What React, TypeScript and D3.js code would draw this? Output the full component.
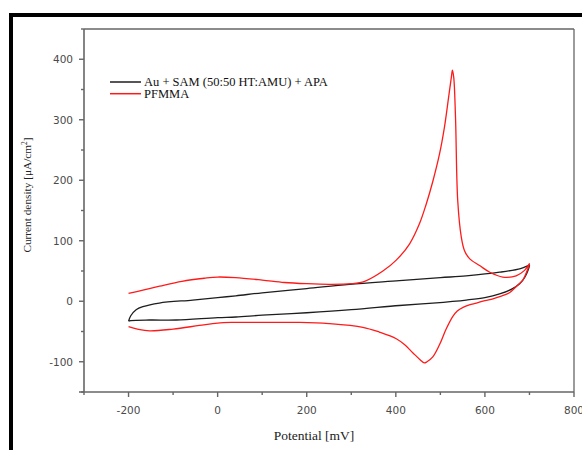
import React from "react";
import * as d3 from "d3";

// Black curve: Au + SAM (50:50 HT:AMU) + APA
const blackForwardE = [-200, -195, -183, -168, -131, -56, 0, 41, 100, 200, 296, 408, 500, 558, 633, 680, 697, 700];
const blackForwardI = [-33, -24, -14, -9, -3, 2, 6, 9, 14, 21, 28, 34, 39, 42, 48, 54, 59, 60];
const blackReverseE = [700, 690, 678, 660, 633, 600, 558, 483, 408, 300, 200, 100, 41, 0, -93, -153, -195, -200];
const blackReverseI = [60, 40, 29, 20, 12, 6, 2, -3, -7, -14, -19, -23, -26, -27, -31, -31, -32, -33];

// Red curve: PFMMA
const redForwardE = [-200, -170, -130, -80, -30, 0, 40, 100, 150, 200, 250, 300, 330, 371, 401, 431, 453, 468, 483, 498, 509, 519, 525, 527, 530, 534, 539, 547, 554, 566, 588, 611, 640, 670, 689, 700];
const redForwardI = [13, 18, 25, 33, 38, 40, 39, 35, 31, 29, 28, 29, 33, 50, 68, 95, 128, 160, 198, 243, 287, 340, 372, 382, 370, 304, 166, 106, 84, 70, 59, 48, 40, 42, 51, 62];
const redReverseE = [700, 697, 690, 685, 670, 655, 635, 618, 600, 581, 565, 551, 538, 528, 513, 498, 483, 470, 464, 455, 438, 420, 401, 363, 326, 250, 184, 100, 34, 0, -41, -100, -153, -180, -200];
const redReverseI = [62, 55, 42, 35, 24, 14, 8, 4, 1, -3, -6, -10, -16, -25, -46, -72, -92, -100, -102, -97, -85, -72, -62, -51, -43, -37, -35, -35, -35, -36, -40, -46, -49, -46, -42];

const xTicks = [-200, 0, 200, 400, 600, 800];
const xMinor = [-300, -100, 100, 300, 500, 700];
const yTicks = [-100, 0, 100, 200, 300, 400];
const yMinor = [-150, -50, 50, 150, 250, 350, 450];

const seriesNames = ["Au + SAM (50:50 HT:AMU) + APA", "PFMMA"];
const seriesColors = ["#1e1e1e", "#ff1a1a"];

const W = 582;
const H = 450;
const L = 84, R = 574, T = 29, B = 392;

export default function App() {
  const x = d3.scaleLinear().domain([-300, 800]).range([L, R]);
  const y = d3.scaleLinear().domain([-150, 450]).range([B, T]);

  const line = d3
    .line<[number, number]>()
    .x((d) => x(d[0]))
    .y((d) => y(d[1]))
    .curve(d3.curveCatmullRom.alpha(0.5));

  const zip = (a: number[], b: number[]) => a.map((v, i) => [v, b[i]] as [number, number]);
  const blackPts = zip(blackForwardE, blackForwardI).concat(zip(blackReverseE, blackReverseI).slice(1));
  const redPts = zip(redForwardE, redForwardI).concat(zip(redReverseE, redReverseI).slice(1));

  const axisColor = "#666";
  const labelColor = "#4a4a4a";
  const sans = "'DejaVu Sans', Verdana, sans-serif";
  const serif = "'Liberation Serif', 'Times New Roman', serif";

  return (
    <svg width={W} height={H} style={{ position: "absolute", left: 0, top: 0, background: "#fff" }}>
      <rect x={0} y={0} width={W} height={H} fill="#fff" />
      {/* outer frame */}
      <rect x={9} y={13} width={4} height={H - 13} fill="#000" />
      <rect x={9} y={13} width={W - 9} height={4} fill="#000" />

      {/* plot box */}
      <line x1={L} y1={T} x2={R} y2={T} stroke={axisColor} strokeWidth={1.3} />
      <line x1={R} y1={T} x2={R} y2={B} stroke={axisColor} strokeWidth={1.3} />
      <line x1={L} y1={T} x2={L} y2={B} stroke={axisColor} strokeWidth={1.6} />
      <line x1={L - 5} y1={B} x2={R} y2={B} stroke={axisColor} strokeWidth={1.6} />

      {/* x ticks */}
      {xTicks.map((t) => (
        <g key={"xt" + t}>
          <line x1={x(t)} x2={x(t)} y1={B} y2={B + 5} stroke={axisColor} strokeWidth={1.4} />
          <text x={x(t)} y={414} textAnchor="middle" fontFamily={sans} fontSize={10.5} fill={labelColor}>
            {t}
          </text>
        </g>
      ))}
      {xMinor.map((t) => (
        <line key={"xm" + t} x1={x(t)} x2={x(t)} y1={B} y2={B + 3} stroke={axisColor} strokeWidth={1.4} />
      ))}

      {/* y ticks */}
      {yTicks.map((t) => (
        <g key={"yt" + t}>
          <line x1={L - 5} x2={L} y1={y(t)} y2={y(t)} stroke={axisColor} strokeWidth={1.4} />
          <text x={73} y={y(t) + 3.8} textAnchor="end" fontFamily={sans} fontSize={10.5} fill={labelColor}>
            {t}
          </text>
        </g>
      ))}
      {yMinor.map((t) => (
        <line key={"ym" + t} x1={L - 3} x2={L} y1={y(t)} y2={y(t)} stroke={axisColor} strokeWidth={1.4} />
      ))}

      {/* axis titles */}
      <text x={314} y={440} textAnchor="middle" fontFamily={serif} fontSize={13.5} fill="#222">
        Potential [mV]
      </text>
      <text
        transform={`translate(31, ${195}) rotate(-90)`}
        textAnchor="middle"
        fontFamily={serif}
        fontSize={11.3}
        fill="#222"
      >
        Current density [μA/cm
        <tspan fontSize={7.5} dy={-4}>2</tspan>
        <tspan dy={4}>]</tspan>
      </text>

      {/* data */}
      <path d={line(blackPts) || ""} fill="none" stroke={seriesColors[0]} strokeWidth={1.3} />
      <path d={line(redPts) || ""} fill="none" stroke={seriesColors[1]} strokeWidth={1.3} />

      {/* legend */}
      {seriesNames.map((name, i) => (
        <g key={name}>
          <line x1={110} x2={141} y1={82 + i * 11.7} y2={82 + i * 11.7} stroke={seriesColors[i]} strokeWidth={1.5} />
          <text x={144} y={86 + i * 11.7} fontFamily={serif} fontSize={12.5} fill="#111">
            {name}
          </text>
        </g>
      ))}
    </svg>
  );
}
